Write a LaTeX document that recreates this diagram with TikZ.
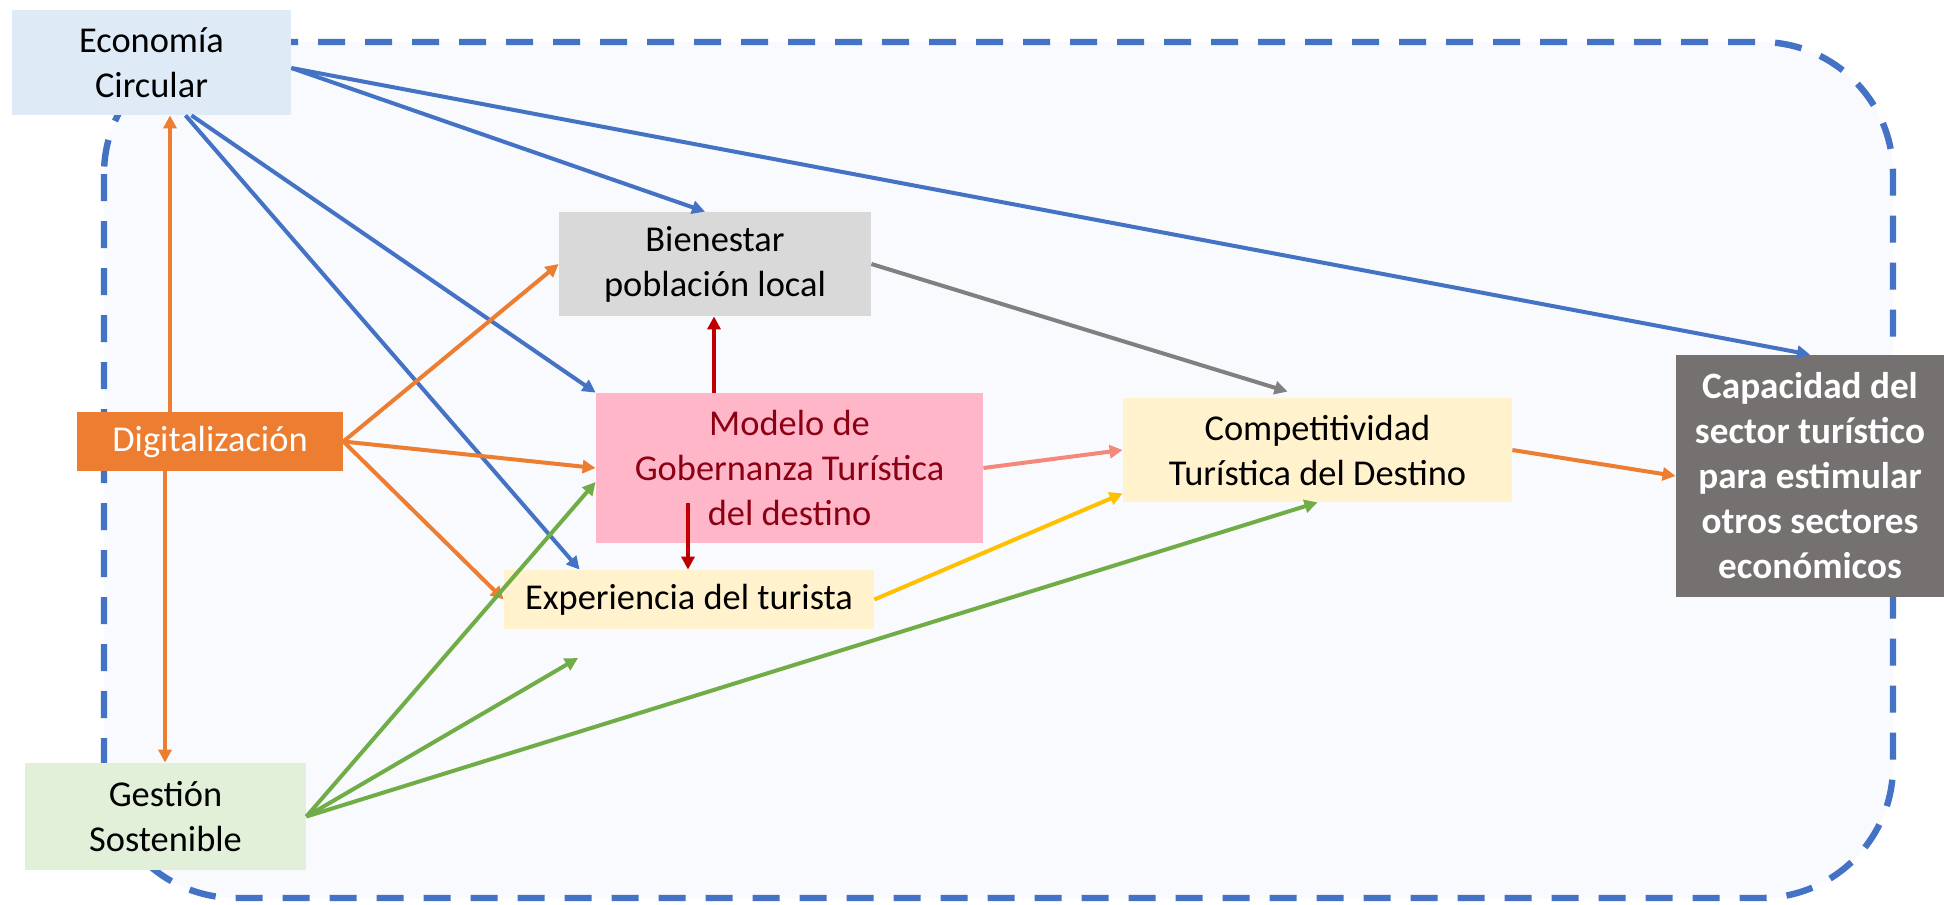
\documentclass[tikz,border=0pt]{standalone}
\usepackage{fontspec}
\setmainfont{Carlito}
\usetikzlibrary{arrows.meta}
\definecolor{cblue}{RGB}{68,114,196}
\definecolor{corange}{RGB}{237,125,49}
\definecolor{cgreen}{RGB}{112,173,71}
\definecolor{cred}{RGB}{192,0,0}
\definecolor{cgray}{RGB}{128,128,128}
\definecolor{cpink}{RGB}{244,136,122}
\definecolor{cyellow}{RGB}{255,192,0}
\definecolor{fblue}{RGB}{222,235,247}
\definecolor{fgreen}{RGB}{226,240,217}
\definecolor{fgray}{RGB}{217,217,217}
\definecolor{fpink}{RGB}{255,182,200}
\definecolor{fyellow}{RGB}{255,242,204}
\definecolor{fdark}{RGB}{118,113,113}
\definecolor{tred}{RGB}{140,0,20}
\definecolor{bgin}{RGB}{248,250,253}
\begin{document}
\begin{tikzpicture}[x=0.5pt,y=-0.5pt,
  box/.style={rectangle, inner sep=0pt, align=center, font=\fontsize{18.2}{22.5}\selectfont},
  conn/.style={line width=2pt, -{Triangle[length=6.5pt,width=6.5pt]}},
  frame/.style={line width=3.2pt, cblue, dash pattern=on 13.5pt off 10pt, fill=bgin, rounded corners=66pt}
]
\fill[white] (0,0) rectangle (1944,905);
\useasboundingbox (0,0) rectangle (1944,905);
\draw[frame] (104,42) rectangle (1893,898);

\node[box, fill=fblue, minimum width=139.5pt, minimum height=52.5pt] (eco) at (151.5,62.5) {Economía\\Circular};
\node[box, fill=corange, text=white, minimum width=133pt, minimum height=29.5pt] (dig) at (210,441.5) {Digitalización};
\node[box, fill=fgreen, minimum width=140.5pt, minimum height=53.5pt] (ges) at (165.5,816.5) {Gestión\\Sostenible};
\node[box, fill=fgray, minimum width=156pt, minimum height=52pt] (bien) at (715,264) {Bienestar\\población local};
\node[box, fill=fpink, text=tred, minimum width=193.5pt, minimum height=75pt] (mod) at (789.5,468) {Modelo de\\Gobernanza Turística\\del destino};
\node[box, fill=fyellow, minimum width=185pt, minimum height=29.5pt] (exp) at (689,599.5) {Experiencia del turista};
\node[box, fill=fyellow, minimum width=194.5pt, minimum height=52pt] (comp) at (1317.5,450) {Competitividad\\Turística del Destino};
\node[box, fill=fdark, text=white, font=\fontsize{18.6}{22.5}\selectfont\bfseries, minimum width=134pt, minimum height=121pt] (cap) at (1810,476) {Capacidad del\\sector turístico\\para estimular\\otros sectores\\económicos};

\coordinate (gfree) at (578,658);

% blue
\draw[conn, cblue] ([yshift=-2.75pt]eco.east) -- ([xshift=-5pt]bien.north);
\draw[conn, cblue] ([yshift=-2.75pt]eco.east) -- (cap.north);
\draw[conn, cblue] ([xshift=20pt]eco.south) -- (mod.north west);
\draw[conn, cblue] ([xshift=17pt]eco.south) -- ([xshift=38pt]exp.north west);
% orange
\draw[conn, corange] ([xshift=-20pt]dig.north) -- ([xshift=-20pt]dig.north |- eco.south);
\draw[conn, corange] ([xshift=-22.5pt]dig.south) -- ([xshift=-22.5pt]dig.south |- ges.north);
\draw[conn, corange] (dig.east) -- (bien.west);
\draw[conn, corange] (dig.east) -- (mod.west);
\draw[conn, corange] (dig.east) -- (exp.west);
% green
\draw[conn, cgreen] (ges.east) -- ([yshift=-7pt]mod.west);
\draw[conn, cgreen] (ges.east) -- (gfree);
\draw[conn, cgreen] (ges.east) -- (comp.south);
% red
\draw[conn, cred] ([xshift=-37.75pt]mod.north) -- ([xshift=-37.75pt]mod.north |- bien.south);
\draw[conn, cred] ([xshift=-50.75pt,yshift=20pt]mod.south) -- ([xshift=-50.75pt]mod.south |- exp.north);
% others
\draw[conn, cgray] (bien.east) -- ([xshift=-15pt,yshift=3pt]comp.north);
\draw[conn, cpink] (mod.east) -- (comp.west);
\draw[conn, cyellow] (exp.east) -- ([yshift=4.5pt]comp.south west);
\draw[conn, corange] (comp.east) -- (cap.west);
\end{tikzpicture}
\end{document}
